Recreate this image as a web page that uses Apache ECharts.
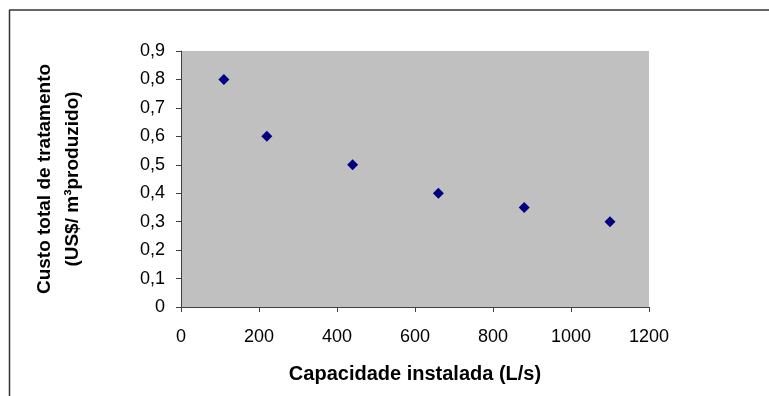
<!DOCTYPE html>
<html>
<head>
<meta charset="utf-8">
<script src="https://cdn.jsdelivr.net/npm/echarts@6/dist/echarts.min.js"></script>
<style>
html,body{margin:0;padding:0;background:#fff;}
#chart{width:769px;height:396px;}
</style>
</head>
<body>
<div id="chart"></div>
<script>
var capacidade = [110, 220, 440, 660, 880, 1100];
var custo = [0.8, 0.6, 0.5, 0.4, 0.35, 0.3];
var xTicks = ['0', '200', '400', '600', '800', '1000', '1200'];
var yTicks = ['0', '0,1', '0,2', '0,3', '0,4', '0,5', '0,6', '0,7', '0,8', '0,9'];

var FONT = 'Liberation Sans, Arial, sans-serif';
var chart = echarts.init(document.getElementById('chart'), null, {renderer: 'canvas'});
var points = capacidade.map(function (x, i) { return [x, custo[i]]; });

chart.setOption({
  animation: false,
  backgroundColor: '#ffffff',
  grid: {
    left: 181, top: 51, width: 468, height: 256,
    show: true, backgroundColor: '#C0C0C0', borderWidth: 0
  },
  xAxis: {
    type: 'value', min: 0, max: 1200, interval: 200,
    name: 'Capacidade instalada (L/s)',
    nameLocation: 'middle', nameGap: 57,
    nameTextStyle: {fontFamily: FONT, fontSize: 20, fontWeight: 'bold', color: '#000'},
    axisLine: {show: true, onZero: false, lineStyle: {color: '#404040', width: 1}},
    axisTick: {show: true, length: 5, lineStyle: {color: '#404040'}},
    axisLabel: {
      fontFamily: FONT, fontSize: 18, color: '#000', margin: 21,
      formatter: function (v) { return xTicks[Math.round(v / 200)]; }
    },
    splitLine: {show: false}
  },
  yAxis: {
    type: 'value', min: 0, max: 0.9, interval: 0.1,
    name: 'Custo total de tratamento\n(US$/ m³produzido)',
    nameLocation: 'middle', nameGap: 94, nameRotate: 90,
    nameTextStyle: {fontFamily: FONT, fontSize: 19, fontWeight: 'bold', color: '#000', lineHeight: 28},
    axisLine: {show: true, lineStyle: {color: '#404040', width: 1}},
    axisTick: {show: true, length: 5, lineStyle: {color: '#404040'}},
    axisLabel: {
      fontFamily: FONT, fontSize: 18, color: '#000', margin: 16,
      formatter: function (v) { return yTicks[Math.round(v * 10)]; }
    },
    splitLine: {show: false}
  },
  graphic: [
    {type: 'line', shape: {x1: 9, y1: 10, x2: 769, y2: 10}, style: {stroke: '#333', lineWidth: 1.5}, silent: true},
    {type: 'line', shape: {x1: 9.5, y1: 10, x2: 9.5, y2: 396}, style: {stroke: '#333', lineWidth: 1.5}, silent: true}
  ],
  series: [{
    type: 'scatter',
    data: points,
    symbol: 'diamond',
    symbolSize: 11,
    itemStyle: {color: '#000080', opacity: 1}
  }]
});
</script>
</body>
</html>
